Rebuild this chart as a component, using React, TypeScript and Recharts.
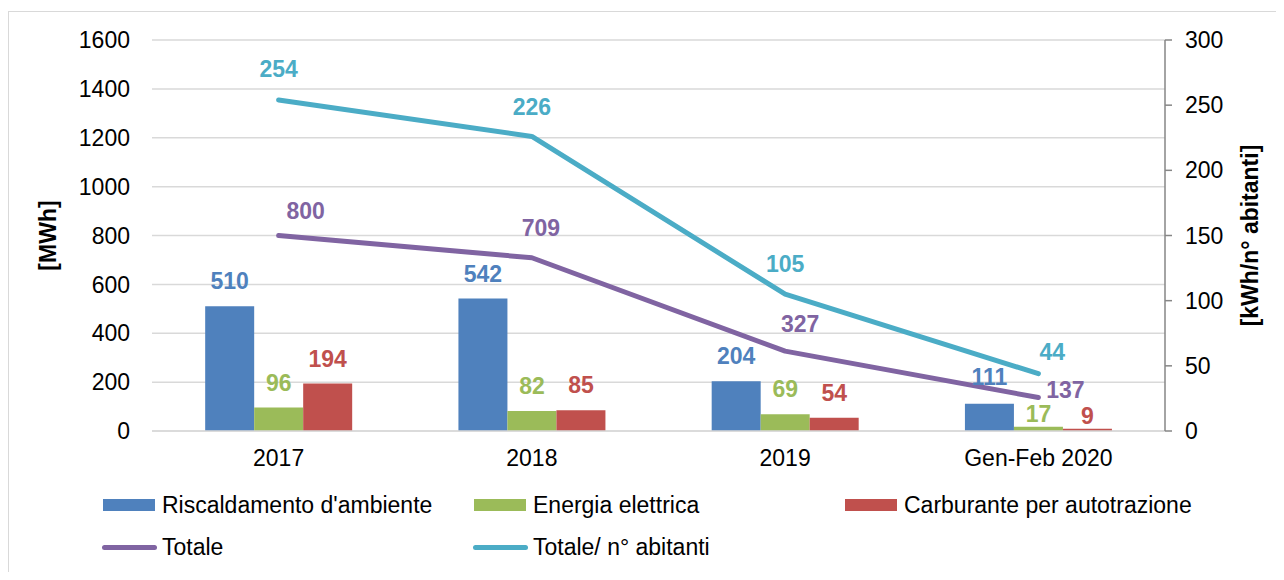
import React from 'react';
import {
  ComposedChart,
  Bar,
  Line,
  XAxis,
  YAxis,
  CartesianGrid,
  Legend,
  Label,
} from 'recharts';

// ---------- data ----------
const categories = ['2017', '2018', '2019', 'Gen-Feb 2020'];
const riscaldamento = [510, 542, 204, 111];
const energiaElettrica = [96, 82, 69, 17];
const carburante = [194, 85, 54, 9];
const totale = [800, 709, 327, 137];
const totaleAbitanti = [254, 226, 105, 44];
const leftTicks = [0, 200, 400, 600, 800, 1000, 1200, 1400, 1600];
const rightTicks = [0, 50, 100, 150, 200, 250, 300];

// label nudges (styling, px) for value labels
const totaleLabelNudge = [
  [27, -17],
  [9, -22],
  [15, -19],
  [27, 0],
];
const abitantiLabelNudge = [
  [0, -23],
  [0, -21],
  [0, -22],
  [14, -14],
];
const riscLabelGap = [17, 17, 17, 19];
const enerLabelGap = [17, 17, 17, 5];
const carbLabelGap = [17, 17, 17, 5];

const FONT = '"Liberation Sans", Arial, Helvetica, sans-serif';
const C_RISC = '#4F81BD';
const C_ENER = '#9BBB59';
const C_CARB = '#C0504D';
const C_TOT = '#8064A2';
const C_ABIT = '#4BACC6';
const GRID = '#d9d9d9';
const AXIS = '#868686';
const FS = 23;

const data = categories.map((cat, i) => ({
  cat,
  risc: riscaldamento[i],
  ener: energiaElettrica[i],
  carb: carburante[i],
  tot: totale[i],
  abit: totaleAbitanti[i],
}));

const legendItems = [
  { name: "Riscaldamento d'ambiente", color: C_RISC, kind: 'rect', col: 0, row: 0 },
  { name: 'Energia elettrica', color: C_ENER, kind: 'rect', col: 1, row: 0 },
  { name: 'Carburante per autotrazione', color: C_CARB, kind: 'rect', col: 2, row: 0 },
  { name: 'Totale', color: C_TOT, kind: 'line', col: 0, row: 1 },
  { name: 'Totale/ n° abitanti', color: C_ABIT, kind: 'line', col: 1, row: 1 },
];
const legendCols = [95, 466, 837];
const legendRows = [17, 59];

const renderLegend = () => (
  <div style={{ position: 'relative', width: 1268, height: 80, fontFamily: FONT, fontSize: FS, color: '#000' }}>
    {legendItems.map((it) => (
      <div
        key={it.name}
        style={{
          position: 'absolute',
          left: legendCols[it.col] - (it.kind === 'line' ? 1 : 0),
          top: legendRows[it.row] - 15,
          height: 30,
          display: 'flex',
          alignItems: 'center',
          whiteSpace: 'nowrap',
        }}
      >
        {it.kind === 'rect' ? (
          <div style={{ width: 52, height: 12, background: it.color }} />
        ) : (
          <div style={{ width: 55, height: 5, borderRadius: 3, background: it.color }} />
        )}
        <span style={{ marginLeft: it.kind === 'rect' ? 7 : 5 }}>{it.name}</span>
      </div>
    ))}
  </div>
);

const makeLineLabel = (color: string, nudge: number[][]) => (props: any) => {
  const { x, y, value, index } = props;
  if (x == null || y == null) return null;
  const n = nudge[index] || [0, -20];
  return (
    <text
      key={`l-${color}-${index}`}
      x={x + n[0]}
      y={y + n[1]}
      textAnchor="middle"
      fill={color}
      fontSize={FS}
      fontWeight="bold"
      fontFamily={FONT}
    >
      {value}
    </text>
  );
};

const makeBarLabel = (color: string, gaps: number[]) => (props: any) => {
  const { x, y, width, value, index } = props;
  if (x == null || y == null) return null;
  const g = gaps[index] != null ? gaps[index] : 17;
  return (
    <text
      key={`b-${color}-${index}`}
      x={x + (width || 0) / 2}
      y={y - g}
      textAnchor="middle"
      fill={color}
      fontSize={FS}
      fontWeight="bold"
      fontFamily={FONT}
    >
      {value}
    </text>
  );
};

const leftTitle = (props: any) => {
  const vb = props.viewBox || {};
  const cx = (vb.x || 0) + 40;
  const cy = (vb.y || 0) + (vb.height || 0) / 2;
  return (
    <text
      x={cx}
      y={cy}
      transform={`rotate(-90, ${cx}, ${cy})`}
      textAnchor="middle"
      dominantBaseline="central"
      fontSize={FS}
      fontWeight="bold"
      fontFamily={FONT}
      fill="#000"
    >
      [MWh]
    </text>
  );
};

const rightTitle = (props: any) => {
  const vb = props.viewBox || {};
  const cx = (vb.x || 0) + 85;
  const cy = (vb.y || 0) + (vb.height || 0) / 2;
  return (
    <text
      x={cx}
      y={cy}
      transform={`rotate(-90, ${cx}, ${cy})`}
      textAnchor="middle"
      dominantBaseline="central"
      fontSize={FS}
      fontWeight="bold"
      fontFamily={FONT}
      fill="#000"
    >
      [kWh/n° abitanti]
    </text>
  );
};

export default function App() {
  return (
    <div style={{ position: 'relative', width: 1268, height: 564, fontFamily: FONT }}>
      <div
        style={{
          position: 'absolute',
          left: 0,
          top: 3,
          width: 1268,
          height: 561,
          borderTop: `1.5px solid ${GRID}`,
          borderLeft: `1.5px solid ${GRID}`,
          boxSizing: 'border-box',
        }}
      />
      <div style={{ position: 'absolute', left: 0, top: 0 }}>
        <ComposedChart
          width={1268}
          height={564}
          data={data}
          margin={{ top: 32, right: 0, bottom: 101, left: 0 }}
          barCategoryGap="21%"
          barGap={0}
        >
          <CartesianGrid yAxisId="left" vertical={false} stroke={GRID} strokeWidth={1.5} />
          <XAxis
            dataKey="cat"
            height={40}
            tickLine={false}
            tickSize={0}
            tickMargin={19}
            axisLine={{ stroke: GRID, strokeWidth: 1.5 }}
            tick={{ fontSize: FS, fill: '#000', fontFamily: FONT }}
            interval={0}
          />
          <YAxis
            yAxisId="left"
            orientation="left"
            width={144}
            domain={[0, 1600]}
            ticks={leftTicks}
            axisLine={false}
            tickLine={false}
            tickSize={0}
            tickMargin={22}
            tick={{ fontSize: FS, fill: '#000', fontFamily: FONT }}
          >
            <Label content={leftTitle} />
          </YAxis>
          <YAxis
            yAxisId="right"
            orientation="right"
            width={111}
            domain={[0, 300]}
            ticks={rightTicks}
            axisLine={{ stroke: AXIS, strokeWidth: 1.5 }}
            tickLine={{ stroke: AXIS, strokeWidth: 1.5 }}
            tickSize={7}
            tickMargin={13}
            tick={{ fontSize: FS, fill: '#000', fontFamily: FONT }}
          >
            <Label content={rightTitle} />
          </YAxis>
          <Legend
            layout="horizontal"
            verticalAlign="middle"
            align="center"
            content={renderLegend}
            wrapperStyle={{ left: 0, top: 480, width: 1268, height: 80 }}
          />
          <Bar
            yAxisId="left"
            dataKey="risc"
            name="Riscaldamento d'ambiente"
            fill={C_RISC}
            isAnimationActive={false}
            label={makeBarLabel(C_RISC, riscLabelGap)}
          />
          <Bar
            yAxisId="left"
            dataKey="ener"
            name="Energia elettrica"
            fill={C_ENER}
            isAnimationActive={false}
            label={makeBarLabel(C_ENER, enerLabelGap)}
          />
          <Bar
            yAxisId="left"
            dataKey="carb"
            name="Carburante per autotrazione"
            fill={C_CARB}
            isAnimationActive={false}
            label={makeBarLabel(C_CARB, carbLabelGap)}
          />
          <Line
            yAxisId="left"
            dataKey="tot"
            name="Totale"
            stroke={C_TOT}
            strokeWidth={5}
            strokeLinecap="round"
            strokeLinejoin="round"
            dot={false}
            activeDot={false}
            isAnimationActive={false}
            label={makeLineLabel(C_TOT, totaleLabelNudge)}
          />
          <Line
            yAxisId="right"
            dataKey="abit"
            name="Totale/ n° abitanti"
            stroke={C_ABIT}
            strokeWidth={5}
            strokeLinecap="round"
            strokeLinejoin="round"
            dot={false}
            activeDot={false}
            isAnimationActive={false}
            label={makeLineLabel(C_ABIT, abitantiLabelNudge)}
          />
        </ComposedChart>
      </div>
    </div>
  );
}
